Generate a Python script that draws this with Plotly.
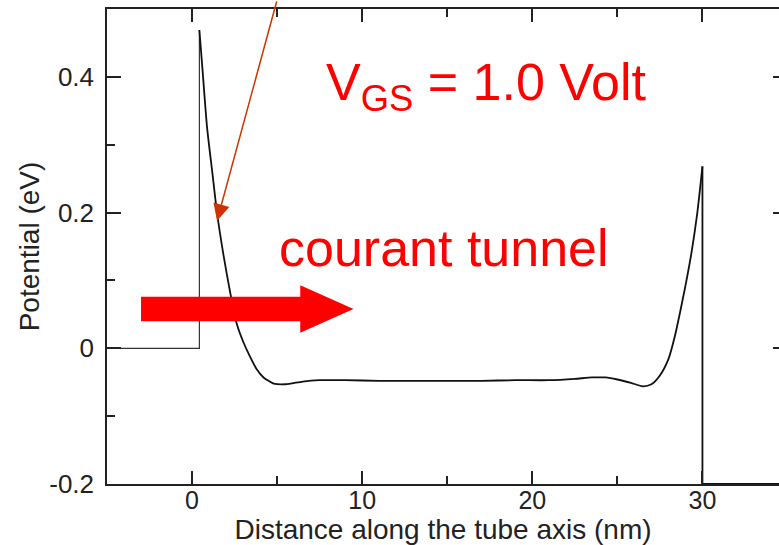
import plotly.graph_objects as go

# --- data ---
lead_left_x = [-5, 0.43, 0.43]
lead_left_y = [0.0, 0.0, 0.469]

curve_x = [0.43, 0.6, 0.88, 1.2, 1.47, 1.85, 2.25, 2.64, 3.0, 3.4, 3.8, 4.2, 4.8, 5.5,
           6.5, 7.5, 9, 11, 13, 15, 17, 19, 21, 22.5, 23.5, 24.3, 25, 25.8, 26.5,
           27.0, 27.5, 28.0, 28.4, 28.7, 29.0, 29.35, 29.7, 30.0]
curve_y = [0.469, 0.415, 0.326, 0.257, 0.199, 0.137, 0.081, 0.035, 0.01, -0.012, -0.031,
           -0.043, -0.052, -0.053, -0.049, -0.047, -0.047, -0.048, -0.048, -0.048, -0.048,
           -0.047, -0.047, -0.045, -0.043, -0.043, -0.046, -0.051, -0.056, -0.053, -0.04,
           -0.016, 0.02, 0.055, 0.092, 0.14, 0.2, 0.268]

lead_right_x = [30.0, 30.0, 35.0]
lead_right_y = [0.268, -0.2, -0.2]

x_ticks = [0, 10, 20, 30]
x_ticktext = ["0", "10", "20", "30"]
y_ticks = [-0.2, 0, 0.2, 0.4]
y_ticktext = ["-0.2", "0", "0.2", "0.4"]

x_range = [-5, 34.5]
y_range = [-0.2, 0.5]

# big red arrow geometry (data units)
arrow_x = [-3.0, 6.36, 9.49]     # tail, head base, tip
arrow_y = 0.058
arrow_shaft_half = 0.018
arrow_head_half = 0.035

# thin pointer arrow (tip in data units)
pointer_tip = (1.47, 0.188)

FONT = "Liberation Sans, Arial, sans-serif"
AX = "#222222"

fig = go.Figure()
fig.add_trace(go.Scatter(x=lead_left_x, y=lead_left_y, mode="lines",
                         line=dict(color="#333333", width=1.2), hoverinfo="skip"))
fig.add_trace(go.Scatter(x=curve_x, y=curve_y, mode="lines",
                         line=dict(color="#111111", width=1.8, shape="spline", smoothing=0.6),
                         hoverinfo="skip"))
fig.add_trace(go.Scatter(x=lead_right_x, y=lead_right_y, mode="lines",
                         line=dict(color="#111111", width=1.8), hoverinfo="skip"))
# dummy trace for right-side tick axis
fig.add_trace(go.Scatter(x=[None], y=[None], yaxis="y2", hoverinfo="skip"))

x0, xb, xt = arrow_x
path = (f"M {x0},{arrow_y - arrow_shaft_half} L {xb},{arrow_y - arrow_shaft_half} "
        f"L {xb},{arrow_y - arrow_head_half} L {xt},{arrow_y} "
        f"L {xb},{arrow_y + arrow_head_half} L {xb},{arrow_y + arrow_shaft_half} "
        f"L {x0},{arrow_y + arrow_shaft_half} Z")
fig.add_shape(type="path", path=path, xref="x", yref="y",
              fillcolor="#FF0000", line=dict(width=0), layer="above")

fig.add_annotation(x=pointer_tip[0], y=pointer_tip[1], xref="x", yref="y",
                   text="", showarrow=True, ax=60, ay=-240,
                   arrowcolor="#CC3300", arrowwidth=1.5, arrowhead=2, arrowsize=2.2)

fig.add_annotation(x=7.78, y=0.386, xref="x", yref="y", xanchor="left", yanchor="middle",
                   text="V<sub>GS</sub> = 1.0 Volt", showarrow=False,
                   font=dict(family=FONT, size=52, color="#FF0000"))
fig.add_annotation(x=14.82, y=0.148, xref="x", yref="y", xanchor="center", yanchor="middle",
                   text="courant tunnel", showarrow=False,
                   font=dict(family=FONT, size=52, color="#FF0000"))

fig.update_layout(
    width=779, height=545,
    margin=dict(l=107, r=0, t=9, b=61),
    paper_bgcolor="white", plot_bgcolor="white",
    showlegend=False,
    font=dict(family=FONT, color=AX),
    xaxis=dict(range=x_range, tickvals=x_ticks, ticktext=x_ticktext,
               ticks="inside", ticklen=13, tickwidth=1.5, tickcolor=AX,
               showline=True, linecolor=AX, linewidth=1.5, mirror="ticks",
               showgrid=False, zeroline=False,
               minor=dict(dtick=5, tick0=0, ticks="inside", ticklen=8, tickwidth=1.5,
                          tickcolor=AX, showgrid=False),
               tickfont=dict(size=25, color=AX), ticklabelstandoff=-7,
               title=dict(text="Distance along the tube axis (nm)", font=dict(size=28, color=AX),
                          standoff=3)),
    yaxis=dict(range=y_range, tickvals=y_ticks, ticktext=y_ticktext,
               ticks="inside", ticklen=14, tickwidth=1.5, tickcolor=AX,
               showline=True, linecolor=AX, linewidth=1.5, mirror=False,
               showgrid=False, zeroline=False,
               minor=dict(dtick=0.1, tick0=0, ticks="inside", ticklen=8, tickwidth=1.5,
                          tickcolor=AX, showgrid=False),
               tickfont=dict(size=26, color=AX), ticklabelstandoff=6,
               title=dict(text="Potential (eV)", font=dict(size=28, color=AX), standoff=1)),
    yaxis2=dict(range=y_range, overlaying="y", side="right", tickvals=y_ticks,
                ticks="inside", ticklen=6, tickwidth=1.5, tickcolor=AX,
                showticklabels=False, showline=False, showgrid=False, zeroline=False),
)

fig.write_html("out.html")
